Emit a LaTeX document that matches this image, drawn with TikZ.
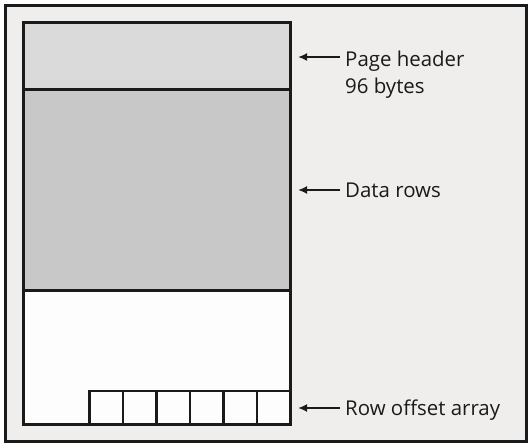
\documentclass[tikz,border=0pt]{standalone}
\usepackage{fontspec}
\setmainfont{Open Sans}
\usetikzlibrary{arrows.meta}
\definecolor{bgc}{HTML}{EFEEED}
\definecolor{hdr}{HTML}{DADADA}
\definecolor{dat}{HTML}{C8C8C8}
\definecolor{wht}{HTML}{FDFDFD}
\definecolor{ink}{HTML}{1A1A1A}
\tikzset{
  frame/.style={draw=ink, line width=3bp},
  cellbox/.style={draw=ink, line width=2.6bp, fill=wht},
  lbl/.style={font=\fontsize{20.5}{27}\selectfont, text=ink, inner sep=0pt, anchor=base west},
  arr/.style={draw=ink, line width=2.4bp, -{Latex[length=9bp,width=8bp]}}
}
\begin{document}
\begin{tikzpicture}[x=1bp,y=-1bp]
\useasboundingbox (0,0) rectangle (531,447);
\fill[white] (0,0) rectangle (531,447);
% outer panel
\draw[frame, fill=bgc] (5,6) rectangle (526,441);
% page regions
\fill[hdr] (23,23) rectangle (290,90);
\fill[dat] (23,90) rectangle (290,290);
\fill[wht] (23,290) rectangle (290,424);
\draw[frame] (23,90) -- (290,90);
\draw[frame] (23,290) -- (290,290);
% row offset array
\foreach \i in {0,...,5}{
  \draw[cellbox] ({89.5+\i*33.5},391) rectangle ({89.5+(\i+1)*33.5},424);
}
\draw[frame] (23,23) rectangle (290,424);
% labels
\node[lbl] (ph) at (345,67) {Page header};
\node[lbl] (pb) at (345,94) {96 bytes};
\node[lbl] (dr) at (345,198) {Data rows};
\node[lbl] (ro) at (345,415) {Row offset array};
\coordinate (phs) at (340,57);
\coordinate (phe) at (298,57);
\coordinate (drs) at (340,190);
\coordinate (dre) at (298,190);
\coordinate (ros) at (340,408);
\coordinate (roe) at (298,408);
\draw[arr] (phs) -- (phe);
\draw[arr] (drs) -- (dre);
\draw[arr] (ros) -- (roe);
\end{tikzpicture}
\end{document}
